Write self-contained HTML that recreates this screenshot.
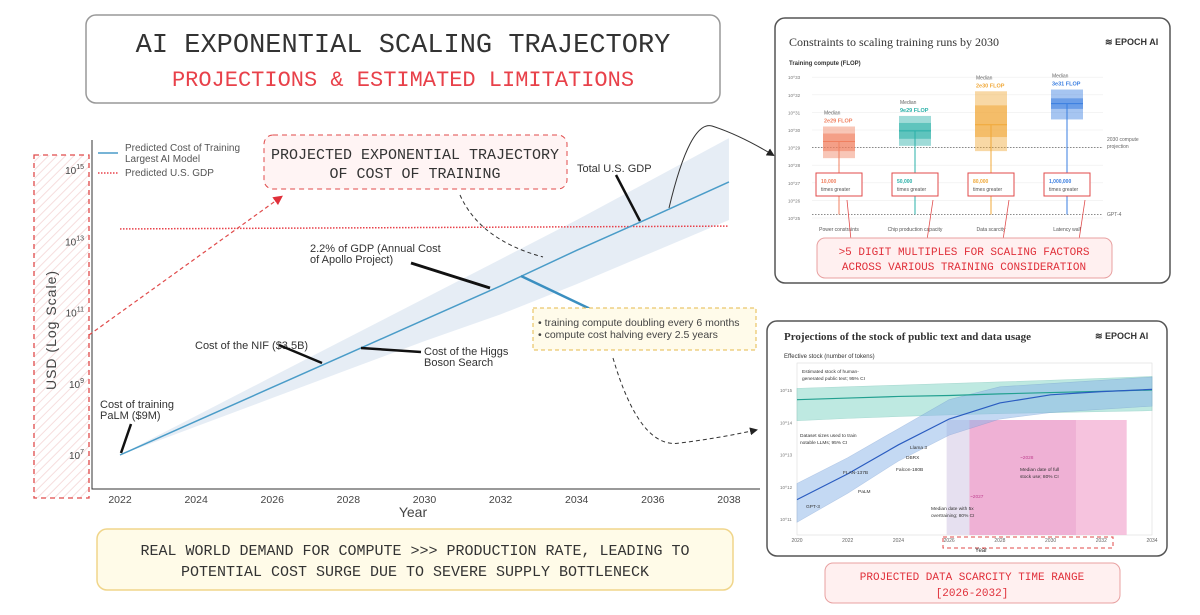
<!DOCTYPE html>
<html><head><meta charset="utf-8"><style>
body{margin:0;background:#fff;width:1200px;height:615px;overflow:hidden}
svg{display:block}
text{font-family:"Liberation Sans",sans-serif}
.mono{font-family:"Liberation Mono",monospace}
</style></head><body>
<svg id="s" width="1200" height="615" viewBox="0 0 1200 615" xmlns="http://www.w3.org/2000/svg">
<defs>
<pattern id="hatch" width="6" height="6" patternUnits="userSpaceOnUse" patternTransform="rotate(45)"><line x1="0" y1="0" x2="0" y2="6" stroke="#f6dede" stroke-width="2"/></pattern>
<marker id="arR" markerWidth="8" markerHeight="8" refX="6" refY="4" orient="auto"><path d="M0,0L8,4L0,8z" fill="#e0303a"/></marker>
<marker id="arK" markerWidth="8" markerHeight="8" refX="6" refY="4" orient="auto"><path d="M0,0L8,4L0,8z" fill="#222"/></marker>
</defs>
<!-- title box -->
<g>
<rect x="86" y="15" width="634" height="88" rx="10" fill="#fff" stroke="#999" stroke-width="1.5"/>
<text class="mono" x="403" y="52" text-anchor="middle" font-size="27" fill="#333">AI EXPONENTIAL SCALING TRAJECTORY</text>
<text class="mono" x="403" y="86" text-anchor="middle" font-size="22" fill="#e8414a">PROJECTIONS &amp; ESTIMATED LIMITATIONS</text>
</g>
<!-- left hatched y-axis box -->
<rect x="34" y="155" width="55" height="343" fill="url(#hatch)" stroke="#e04a4a" stroke-width="1.3" stroke-dasharray="5,4"/>
<text x="56" y="330" transform="rotate(-90 56 330)" text-anchor="middle" font-size="14" fill="#444" letter-spacing="1">USD (Log Scale)</text>
<text x="413" y="517" text-anchor="middle" font-size="14" fill="#444">Year</text>
<g id="main"></g>
<!-- annotations -->
<g font-size="11" fill="#333">
<text x="100" y="408">Cost of training</text><text x="100" y="419">PaLM ($9M)</text>
<line x1="131" y1="424" x2="121" y2="453" stroke="#111" stroke-width="2.5"/>
<text x="195" y="349">Cost of the NIF ($3.5B)</text>
<line x1="279" y1="345" x2="322" y2="363" stroke="#111" stroke-width="2.5"/>
<text x="424" y="355">Cost of the Higgs</text><text x="424" y="366">Boson Search</text>
<line x1="361" y1="348" x2="421" y2="352" stroke="#111" stroke-width="2.5"/>
<text x="310" y="252">2.2% of GDP (Annual Cost</text><text x="310" y="263">of Apollo Project)</text>
<line x1="411" y1="263" x2="490" y2="288" stroke="#111" stroke-width="3"/>
<text x="577" y="172">Total U.S. GDP</text>
<line x1="616" y1="175" x2="640" y2="221" stroke="#111" stroke-width="2.5"/>
<line x1="521" y1="276" x2="603" y2="315" stroke="#3b8fc0" stroke-width="2.5"/>
</g>
<g>
<rect x="533" y="308" width="223" height="42" fill="#fffbea" stroke="#e6b84a" stroke-dasharray="4,3"/>
<text x="538" y="326" font-size="10.5" fill="#444">• training compute doubling every 6 months</text>
<text x="538" y="338" font-size="10.5" fill="#444">• compute cost halving every 2.5 years</text>
</g>
<g>
<rect x="264" y="135" width="303" height="54" rx="9" fill="#fff4f4" stroke="#e04a4a" stroke-dasharray="5,4"/>
<text class="mono" x="415" y="159" text-anchor="middle" font-size="15" fill="#333">PROJECTED EXPONENTIAL TRAJECTORY</text>
<text class="mono" x="415" y="178" text-anchor="middle" font-size="15" fill="#333">OF COST OF TRAINING</text>
</g>
<!-- legend -->
<g font-size="10" fill="#555">
<line x1="98" y1="153" x2="118" y2="153" stroke="#4a9cc8" stroke-width="1.5"/>
<text x="125" y="151">Predicted Cost of Training</text><text x="125" y="162">Largest AI Model</text>
<line x1="98" y1="173" x2="118" y2="173" stroke="#e8414a" stroke-width="1.5" stroke-dasharray="1.5,1.5"/>
<text x="125" y="176">Predicted U.S. GDP</text>
</g>
<!-- connector arrows -->
<path d="M89,335 L281,197" fill="none" stroke="#e04a4a" stroke-width="1.2" stroke-dasharray="4,3" marker-end="url(#arR)"/>
<path d="M460,195 Q480,240 543,257" fill="none" stroke="#333" stroke-width="1" stroke-dasharray="4,3"/>
<path d="M669,208 Q690,120 712,126 Q740,135 773,155" fill="none" stroke="#333" stroke-width="1" marker-end="url(#arK)"/>
<path d="M613,358 Q640,450 680,443 Q720,438 756,430" fill="none" stroke="#333" stroke-width="1" stroke-dasharray="4,3" marker-end="url(#arK)"/>
<!-- bottom note -->
<g>
<rect x="97" y="529" width="636" height="61" rx="10" fill="#fffbe8" stroke="#f0d58a" stroke-width="1.5"/>
<text class="mono" x="415" y="555" text-anchor="middle" font-size="15" fill="#333">REAL WORLD DEMAND FOR COMPUTE &gt;&gt;&gt; PRODUCTION RATE, LEADING TO</text>
<text class="mono" x="415" y="576" text-anchor="middle" font-size="15" fill="#333">POTENTIAL COST SURGE DUE TO SEVERE SUPPLY BOTTLENECK</text>
</g>
<!-- top inset -->
<g>
<rect x="775" y="18" width="395" height="265" rx="10" fill="#fff" stroke="#555" stroke-width="1.5"/>
<text x="789" y="46" font-family="Liberation Serif" font-size="12" fill="#333" style="font-family:'Liberation Serif',serif">Constraints to scaling training runs by 2030</text>
<text x="1105" y="45" font-size="9" font-weight="bold" fill="#333">≋ EPOCH AI</text>
<text x="789" y="65" font-size="6" font-weight="bold" fill="#333">Training compute (FLOP)</text>
<g id="top"></g>
<rect x="817" y="238" width="295" height="40" rx="8" fill="#fff0f0" stroke="#e8a0a0"/>
<text class="mono" x="964" y="255" text-anchor="middle" font-size="11" fill="#e0303a">&gt;5 DIGIT MULTIPLES FOR SCALING FACTORS</text>
<text class="mono" x="964" y="270" text-anchor="middle" font-size="11" fill="#e0303a">ACROSS VARIOUS TRAINING CONSIDERATION</text>
</g>
<!-- bottom inset -->
<g>
<rect x="767" y="321" width="400" height="235" rx="10" fill="#fff" stroke="#555" stroke-width="1.5"/>
<text x="784" y="340" font-size="11" font-weight="bold" fill="#333" style="font-family:'Liberation Serif',serif">Projections of the stock of public text and data usage</text>
<text x="1095" y="339" font-size="9" font-weight="bold" fill="#333">≋ EPOCH AI</text>
<text x="784" y="358" font-size="6" fill="#333">Effective stock (number of tokens)</text>
<g id="bot"></g>
<rect x="943" y="537" width="170" height="11" fill="none" stroke="#e04a4a" stroke-dasharray="4,3"/>
<text x="975" y="552" font-size="6" fill="#333">Year</text>
</g>
<g>
<rect x="825" y="563" width="295" height="40" rx="8" fill="#fff0f0" stroke="#e8a0a0"/>
<text class="mono" x="972" y="580" text-anchor="middle" font-size="11" fill="#e0303a">PROJECTED DATA SCARCITY TIME RANGE</text>
<text class="mono" x="972" y="596" text-anchor="middle" font-size="11" fill="#e0303a">[2026-2032]</text>
</g>
</svg>
<script>
// ---- main chart data ----
const years = [2022,2024,2026,2028,2030,2032,2034,2036,2038];
const costLog = [7.0,7.95,8.9,9.85,10.8,11.75,12.75,13.7,14.67];
const bandUpper = [7.0,8.1,9.2,10.3,11.4,12.5,13.6,14.75,15.9];
const bandLower = [7.0,7.8,8.6,9.4,10.2,10.95,11.8,12.7,13.6];
const gdpLog = [13.35,13.36,13.37,13.38,13.39,13.4,13.41,13.42,13.43];
const yTicks = [7,9,11,13,15];
// ---- top inset data ----
const constraintCats = ['Power constraints','Chip production capacity','Data scarcity','Latency wall'];
const constraintMedian = [29.35,29.95,30.3,31.5];
const constraintLow = [28.4,29.1,28.8,30.6];
const constraintHigh = [30.2,30.8,32.2,32.3];
const constraintInnerLow = [28.8,29.5,29.6,31.2];
const constraintInnerHigh = [29.8,30.4,31.4,31.8];
const constraintMedLabel = ['2e29 FLOP','9e29 FLOP','2e30 FLOP','3e31 FLOP'];
const constraintMult = ['10,000','50,000','80,000','1,000,000'];
const constraintColors = ['#f08060','#2ab0a8','#f0a838','#3a7ee0'];
const flopTicks = [25,26,27,28,29,30,31,32,33];
// ---- bottom inset data ----
const stockYears = [2020,2022,2024,2026,2028,2030,2032,2034];
const stockCenter = [14.7,14.75,14.8,14.83,14.88,14.92,14.96,15.0];
const stockUpper = [15.05,15.1,15.15,15.2,15.25,15.3,15.36,15.42];
const stockLower = [14.05,14.12,14.18,14.23,14.27,14.3,14.33,14.36];
const dataCenter = [11.6,12.4,13.3,14.1,14.6,14.85,14.95,15.02];
const dataUpper = [12.1,12.9,13.8,14.7,15.1,15.2,15.3,15.4];
const dataLower = [10.9,11.8,12.8,13.6,14.1,14.3,14.4,14.5];
const tokenTicks = [11,12,13,14,15];
const xLabels = [2020,2022,2024,2026,2028,2030,2032,2034];

const NS='http://www.w3.org/2000/svg';
function mk(p,tag,at){const e=document.createElementNS(NS,tag);for(const k in at)e.setAttribute(k,at[k]);p.appendChild(e);return e;}
// main axes
const X=y=>120+(y-2022)*38.06, Y=v=>455-(v-7)*35.6;
const g=document.getElementById('main');
let d='M'+years.map((y,i)=>X(y)+','+Y(bandUpper[i])).join('L')+'L'+years.slice().reverse().map((y,i)=>X(y)+','+Y(bandLower[years.length-1-i])).join('L')+'Z';
let band=mk(g,'path',{d:d,fill:'#dde7f2',opacity:'0.75'});


let gdp=mk(g,'polyline',{points:years.map((y,i)=>X(y)+','+Y(gdpLog[i])).join(' '),fill:'none',stroke:'#e8414a','stroke-width':'1.5','stroke-dasharray':'1.5,1.5'});


let cl=mk(g,'polyline',{points:years.map((y,i)=>X(y)+','+Y(costLog[i])).join(' '),fill:'none',stroke:'#4a9cc8','stroke-width':'1.5'});


let ax=mk(g,'path',{d:'M92,140L92,489L760,489',fill:'none',stroke:'#333','stroke-width':'1'});


years.forEach(y=>{let t=mk(g,'text',{x:X(y),y:503,'text-anchor':'middle','font-size':'10.5',fill:'#444'});t.textContent=y;

});
yTicks.forEach(v=>{let t=mk(g,'text',{x:84,y:Y(v)+4,'text-anchor':'end','font-size':'10',fill:'#444'});t.innerHTML='10<tspan font-size="7" dy="-5">'+v+'</tspan>';

});
// top inset
const tg=document.getElementById('top');
const TY=v=>218-(v-25)*17.6, TX=i=>839+i*76;
flopTicks.forEach(v=>{mk(tg,'line',{x1:812,x2:1103,y1:TY(v),y2:TY(v),stroke:'#eee','stroke-width':'0.6'});
let t=mk(tg,'text',{x:788,y:TY(v)+2,'font-size':'4.5',fill:'#777'});t.textContent='10^'+v;

});
mk(tg,'line',{x1:812,x2:1103,y1:TY(29.0),y2:TY(29.0),stroke:'#666','stroke-dasharray':'1.5,1.5','stroke-width':'0.8'});
mk(tg,'line',{x1:812,x2:1103,y1:TY(25.2),y2:TY(25.2),stroke:'#666','stroke-dasharray':'1.5,1.5','stroke-width':'0.8'});
let t1=mk(tg,'text',{x:1107,y:141,'font-size':'5',fill:'#666'});t1.textContent='2030 compute';
let t2=mk(tg,'text',{x:1107,y:148,'font-size':'5',fill:'#666'});t2.textContent='projection';
let t3=mk(tg,'text',{x:1107,y:216,'font-size':'5',fill:'#666'});t3.textContent='GPT-4';
constraintCats.forEach((c,i)=>{const cx=TX(i),col=constraintColors[i];
mk(tg,'line',{x1:cx,x2:cx,y1:TY(constraintMedian[i]),y2:TY(25.2),stroke:col,'stroke-width':'1'});
let b=mk(tg,'rect',{x:cx-16,y:TY(constraintHigh[i]),width:32,height:TY(constraintLow[i])-TY(constraintHigh[i]),fill:col,opacity:'0.45'});


mk(tg,'rect',{x:cx-16,y:TY(constraintInnerHigh[i]),width:32,height:TY(constraintInnerLow[i])-TY(constraintInnerHigh[i]),fill:col,opacity:'0.55'});
mk(tg,'line',{x1:cx-16,x2:cx+16,y1:TY(constraintMedian[i]),y2:TY(constraintMedian[i]),stroke:col,'stroke-width':'1'});
let m=mk(tg,'text',{x:cx-15,y:TY(constraintHigh[i])-12,'font-size':'5',fill:'#666'});m.textContent='Median';
let ml=mk(tg,'text',{x:cx-15,y:TY(constraintHigh[i])-4,'font-size':'5.5','font-weight':'bold',fill:col});ml.textContent=constraintMedLabel[i];
mk(tg,'rect',{x:cx-23,y:173,width:46,height:23,fill:'#fff',stroke:'#e04a4a','stroke-width':'1'});
let mu=mk(tg,'text',{x:cx-18,y:183,'font-size':'5',fill:col,'font-weight':'bold'});mu.textContent=constraintMult[i];
let mu2=mk(tg,'text',{x:cx-18,y:191,'font-size':'5',fill:'#555'});mu2.textContent='times greater';
let lb=mk(tg,'text',{x:cx,y:231,'text-anchor':'middle','font-size':'5',fill:'#555'});lb.textContent=c;


mk(tg,'line',{x1:cx+12,x2:cx+28+(i==0?-20:-10),y1:240,y2:200,stroke:'#e04a4a','stroke-width':'0.8'});
});
// bottom inset
const bg=document.getElementById('bot');
const BX=y=>797+(y-2020)*25.36, BY=v=>390-(v-15)*32.25;
mk(bg,'rect',{x:797,y:363,width:355,height:172,fill:'#fff',stroke:'#ddd','stroke-width':'0.6'});
mk(bg,'rect',{x:BX(2025.9),y:420,width:BX(2026.8)-BX(2025.9),height:115,fill:'#e6e0f0'});
let pk=mk(bg,'rect',{x:BX(2026.8),y:420,width:BX(2033)-BX(2026.8),height:115,fill:'#f4b8d8',opacity:'0.85'});


mk(bg,'rect',{x:BX(2026.8),y:420,width:BX(2031)-BX(2026.8),height:115,fill:'#e8a0cc',opacity:'0.5'});
function bandPath(u,l,ax){return 'M'+ax.map((y,i)=>BX(y)+','+BY(u[i])).join('L')+'L'+ax.slice().reverse().map((y,i)=>BX(y)+','+BY(l[ax.length-1-i])).join('L')+'Z';}
let sb=mk(bg,'path',{d:bandPath(stockUpper,stockLower,stockYears),fill:'#7fd4c4',opacity:'0.5',stroke:'#5ab8a8','stroke-width':'0.6'});


let db=mk(bg,'path',{d:bandPath(dataUpper,dataLower,stockYears),fill:'#8ab4e8',opacity:'0.5',stroke:'#6a94d0','stroke-width':'0.6'});


let sl=mk(bg,'polyline',{points:stockYears.map((y,i)=>BX(y)+','+BY(stockCenter[i])).join(' '),fill:'none',stroke:'#22a090','stroke-width':'1.2'});


let dl=mk(bg,'polyline',{points:stockYears.map((y,i)=>BX(y)+','+BY(dataCenter[i])).join(' '),fill:'none',stroke:'#2a5cc0','stroke-width':'1.2'});


tokenTicks.forEach(v=>{let t=mk(bg,'text',{x:780,y:BY(v)+2,'font-size':'4.5',fill:'#777'});t.textContent='10^'+v;

});
xLabels.forEach(y=>{let t=mk(bg,'text',{x:BX(y),y:542,'text-anchor':'middle','font-size':'5',fill:'#666'});t.textContent=y;

});
[['Estimated stock of human-',802,373],['generated public text; 95% CI',802,380],['Dataset sizes used to train',800,437],['notable LLMs; 95% CI',800,444],['GPT-3',806,508],['PaLM',858,493],['FLAN-137B',843,474],['Falcon-180B',896,471],['DBRX',906,459],['Llama 3',910,449],['~2028',1020,459],['Median date of full',1020,471],['stock use; 80% CI',1020,478],['~2027',970,498],['Median date with 5x',931,510],['overtraining; 80% CI',931,517]].forEach(a=>{let t=mk(bg,'text',{x:a[1],y:a[2],'font-size':'4.8',fill:a[0][0]=='~'?'#c04090':'#333'});t.textContent=a[0];

});
</script>
</body></html>
